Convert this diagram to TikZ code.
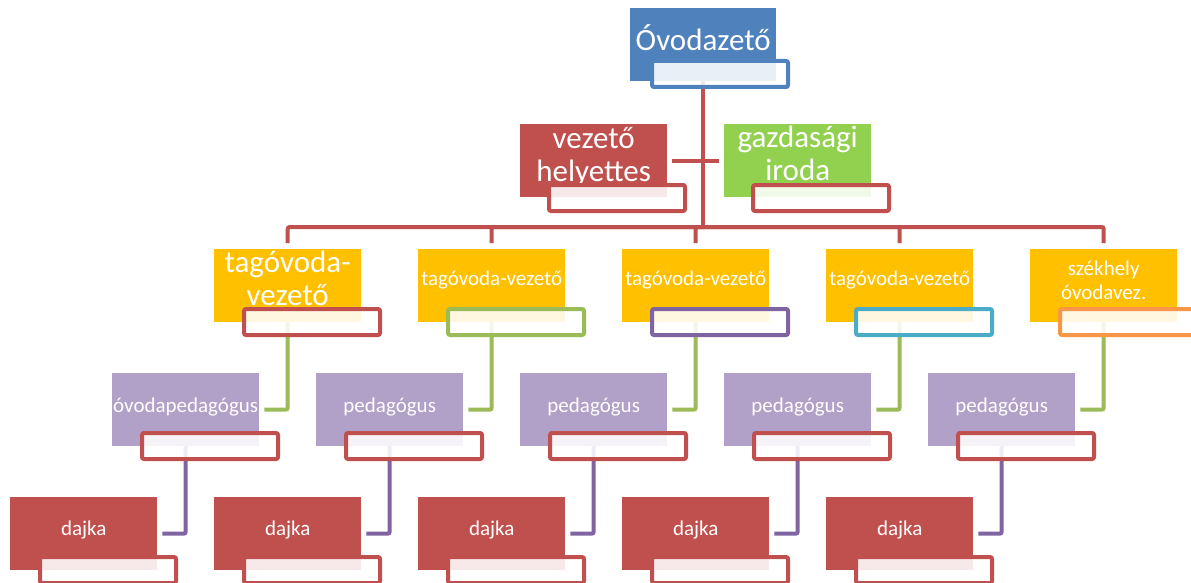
\documentclass[tikz,border=0pt]{standalone}
\usepackage{fontspec}
\setmainfont{Carlito}
\usetikzlibrary{backgrounds}

\definecolor{ablue}{HTML}{4F81BD}
\definecolor{ared}{HTML}{C0504D}
\definecolor{agreen}{HTML}{9BBB59}
\definecolor{lgreen}{HTML}{92D050}
\definecolor{agold}{HTML}{FFC000}
\definecolor{apurple}{HTML}{8064A2}
\definecolor{lpurple}{HTML}{B1A0C7}
\definecolor{aaqua}{HTML}{4BACC6}
\definecolor{aorange}{HTML}{F79646}

\begin{document}
\begin{tikzpicture}[x=1pt,y=-1pt,
  mainbox/.style={anchor=north west, minimum width=147pt, minimum height=73pt, inner sep=0pt},
  subbox/.style={anchor=north west, minimum width=136pt, minimum height=26pt, inner sep=0pt,
    line width=4pt, rounded corners=2pt, fill=white, fill opacity=0.88},
  bigtxt/.style={text=white, align=center, inner sep=0pt, font=\fontsize{31}{33}\selectfont},
  smalltxt/.style={text=white, align=center, inner sep=0pt, font=\fontsize{21}{24}\selectfont},
  link/.style={line width=4pt, rounded corners=2pt}]

\useasboundingbox (0,0) rectangle (1191,583);

% vezeto
\node[mainbox, fill=ablue, minimum width=146pt] (ovez) at (630,8) {};
\node[bigtxt] (ovezt) at ([yshift=7pt]ovez.center) {Óvodazető};
\node[subbox, draw=ablue] (ovezs) at ([shift={(20pt,-51pt)}]ovez.north west) {};

% helyettes, iroda
\node[mainbox, fill=ared] (helyet) at (520,124) {};
\node[bigtxt] (helyett) at ([yshift=4pt]helyet.center) {vezető\\helyettes};
\node[subbox, draw=ared] (helyets) at ([shift={(27pt,-59pt)}]helyet.north west) {};

\node[mainbox, fill=lgreen] (iroda) at (724,124) {};
\node[bigtxt] (irodat) at ([yshift=7pt]iroda.center) {gazdasági\\iroda};
\node[subbox, draw=ared] (irodas) at ([shift={(27pt,-59pt)}]iroda.north west) {};

% tagovoda-vezetok
\node[mainbox, fill=agold] (tag1) at (214,249) {};
\node[bigtxt] (tag1t) at ([yshift=7pt]tag1.center) {tagóvoda-\\vezető};
\node[subbox, draw=ared] (tag1s) at ([shift={(28pt,-58pt)}]tag1.north west) {};

\node[mainbox, fill=agold] (tag2) at (418,249) {};
\node[smalltxt] (tag2t) at ([yshift=6pt]tag2.center) {tagóvoda-vezető};
\node[subbox, draw=agreen] (tag2s) at ([shift={(28pt,-58pt)}]tag2.north west) {};

\node[mainbox, fill=agold] (tag3) at (622,249) {};
\node[smalltxt] (tag3t) at ([yshift=6pt]tag3.center) {tagóvoda-vezető};
\node[subbox, draw=apurple] (tag3s) at ([shift={(28pt,-58pt)}]tag3.north west) {};

\node[mainbox, fill=agold] (tag4) at (826,249) {};
\node[smalltxt] (tag4t) at ([yshift=6pt]tag4.center) {tagóvoda-vezető};
\node[subbox, draw=aaqua] (tag4s) at ([shift={(28pt,-58pt)}]tag4.north west) {};

\node[mainbox, fill=agold] (tag5) at (1030,249) {};
\node[smalltxt] (tag5t) at ([yshift=5pt]tag5.center) {székhely\\óvodavez.};
\node[subbox, draw=aorange] (tag5s) at ([shift={(28pt,-58pt)}]tag5.north west) {};

% pedagogusok
\node[mainbox, fill=lpurple] (ped1) at (112,373) {};
\node[smalltxt] (ped1t) at ([yshift=3pt]ped1.center) {óvodapedagógus};
\node[subbox, draw=ared] (ped1s) at ([shift={(28pt,-58pt)}]ped1.north west) {};

\node[mainbox, fill=lpurple] (ped2) at (316,373) {};
\node[smalltxt] (ped2t) at ([yshift=3pt]ped2.center) {pedagógus};
\node[subbox, draw=ared] (ped2s) at ([shift={(28pt,-58pt)}]ped2.north west) {};

\node[mainbox, fill=lpurple] (ped3) at (520,373) {};
\node[smalltxt] (ped3t) at ([yshift=3pt]ped3.center) {pedagógus};
\node[subbox, draw=ared] (ped3s) at ([shift={(28pt,-58pt)}]ped3.north west) {};

\node[mainbox, fill=lpurple] (ped4) at (724,373) {};
\node[smalltxt] (ped4t) at ([yshift=3pt]ped4.center) {pedagógus};
\node[subbox, draw=ared] (ped4s) at ([shift={(28pt,-58pt)}]ped4.north west) {};

\node[mainbox, fill=lpurple] (ped5) at (928,373) {};
\node[smalltxt] (ped5t) at ([yshift=3pt]ped5.center) {pedagógus};
\node[subbox, draw=ared] (ped5s) at ([shift={(28pt,-58pt)}]ped5.north west) {};

% dajkak
\node[mainbox, fill=ared] (daj1) at (10,497) {};
\node[smalltxt] (daj1t) at ([yshift=4pt]daj1.center) {dajka};
\node[subbox, draw=ared] (daj1s) at ([shift={(28pt,-58pt)}]daj1.north west) {};

\node[mainbox, fill=ared] (daj2) at (214,497) {};
\node[smalltxt] (daj2t) at ([yshift=4pt]daj2.center) {dajka};
\node[subbox, draw=ared] (daj2s) at ([shift={(28pt,-58pt)}]daj2.north west) {};

\node[mainbox, fill=ared] (daj3) at (418,497) {};
\node[smalltxt] (daj3t) at ([yshift=4pt]daj3.center) {dajka};
\node[subbox, draw=ared] (daj3s) at ([shift={(28pt,-58pt)}]daj3.north west) {};

\node[mainbox, fill=ared] (daj4) at (622,497) {};
\node[smalltxt] (daj4t) at ([yshift=4pt]daj4.center) {dajka};
\node[subbox, draw=ared] (daj4s) at ([shift={(28pt,-58pt)}]daj4.north west) {};

\node[mainbox, fill=ared] (daj5) at (826,497) {};
\node[smalltxt] (daj5t) at ([yshift=4pt]daj5.center) {dajka};
\node[subbox, draw=ared] (daj5s) at ([shift={(28pt,-58pt)}]daj5.north west) {};

\begin{pgfonlayer}{background}
\coordinate (busy) at (0,227);
\coordinate (bus) at (ovez.center |- busy);
\draw[link, ared] (ovez.center) -- (bus);
\draw[link, ared] ([xshift=5pt]helyet.east) -- ([xshift=-5pt]iroda.west);
\draw[link, ared] (bus) -| ([yshift=6pt]tag1.north);
\draw[link, ared] (bus) -| ([yshift=6pt]tag2.north);
\draw[link, ared] (bus) -| ([yshift=6pt]tag3.north);
\draw[link, ared] (bus) -| ([yshift=6pt]tag4.north);
\draw[link, ared] (bus) -| ([yshift=6pt]tag5.north);

\draw[link, agreen] (tag1.center) |- ([xshift=5pt]ped1.east);
\draw[link, agreen] (tag2.center) |- ([xshift=5pt]ped2.east);
\draw[link, agreen] (tag3.center) |- ([xshift=5pt]ped3.east);
\draw[link, agreen] (tag4.center) |- ([xshift=5pt]ped4.east);
\draw[link, agreen] (tag5.center) |- ([xshift=5pt]ped5.east);

\draw[link, apurple] (ped1.center) |- ([xshift=5pt]daj1.east);
\draw[link, apurple] (ped2.center) |- ([xshift=5pt]daj2.east);
\draw[link, apurple] (ped3.center) |- ([xshift=5pt]daj3.east);
\draw[link, apurple] (ped4.center) |- ([xshift=5pt]daj4.east);
\draw[link, apurple] (ped5.center) |- ([xshift=5pt]daj5.east);
\end{pgfonlayer}

\end{tikzpicture}
\end{document}
